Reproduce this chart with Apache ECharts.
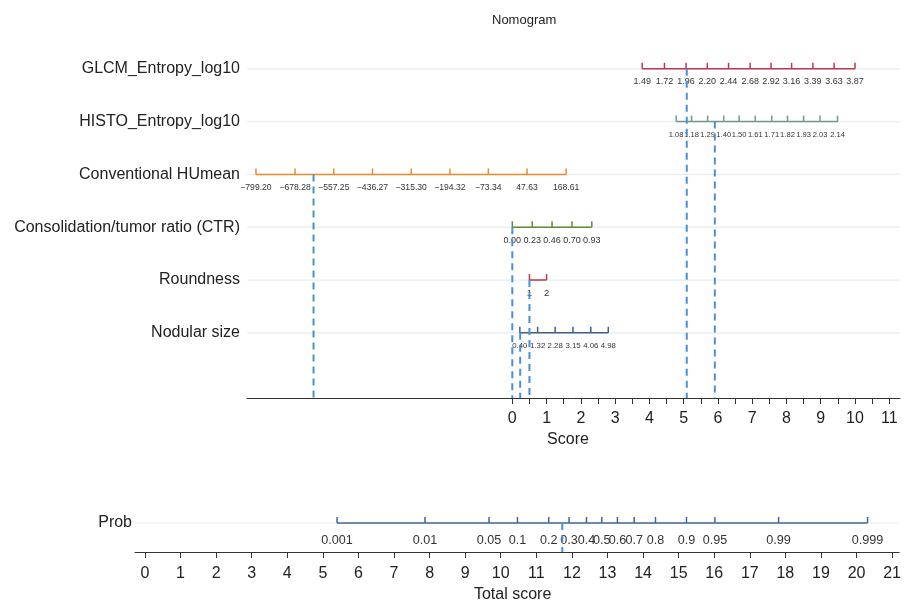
<!DOCTYPE html>
<html>
<head>
<meta charset="utf-8">
<script src="https://cdn.jsdelivr.net/npm/echarts@6/dist/echarts.min.js"></script>
<style>
html,body{margin:0;padding:0;background:#fff;}
#main{width:904px;height:604px;}
</style>
</head>
<body>
<div id="main"></div>
<script>
// ---------- data ----------
const rowNames = ['GLCM_Entropy_log10','HISTO_Entropy_log10','Conventional HUmean','Consolidation/tumor ratio (CTR)','Roundness','Nodular size'];

const glcmLabels = ['1.49','1.72','1.96','2.20','2.44','2.68','2.92','3.16','3.39','3.63','3.87'];
const glcmPoints = [3.79,4.44,5.07,5.69,6.31,6.94,7.55,8.15,8.77,9.39,10.00];

const histoLabels = ['1.08','1.18','1.29','1.40','1.50','1.61','1.71','1.82','1.93','2.03','2.14'];
const histoPoints = [4.78,5.23,5.70,6.17,6.62,7.09,7.57,8.03,8.50,8.98,9.49];

const huLabels = ['\u2212799.20','\u2212678.28','\u2212557.25','\u2212436.27','\u2212315.30','\u2212194.32','\u221273.34','47.63','168.61'];
const huPoints = [-7.48,-6.34,-5.21,-4.08,-2.95,-1.82,-0.70,0.43,1.57];

const ctrLabels = ['0.00','0.23','0.46','0.70','0.93'];
const ctrPoints = [0.00,0.58,1.16,1.74,2.32];

const roundLabels = ['1','2'];
const roundPoints = [0.50,1.00];

const sizeLabels = ['0.40','1.32','2.28','3.15','4.06','4.98'];
const sizePoints = [0.22,0.74,1.25,1.77,2.29,2.80];

const probLabels = ['0.001','0.01','0.05','0.1','0.2','0.3','0.4','0.5','0.6','0.7','0.8','0.9','0.95','0.99','0.999'];
const probPoints = [5.40,7.87,9.67,10.47,11.35,11.92,12.41,12.84,13.28,13.75,14.35,15.22,16.02,17.81,20.31];

// patient markers (score for each row) and total score
const patientScores = [5.09,5.91,-5.80,0.00,0.50,0.23];
const patientTotal = 11.73;

// axis ticks / labels
const scoreTicks = [0,0.5,1,1.5,2,2.5,3,3.5,4,4.5,5,5.5,6,6.5,7,7.5,8,8.5,9,9.5,10,10.5,11];
const scoreLabels = [0,1,2,3,4,5,6,7,8,9,10,11];
const totalTicks = [0,1,2,3,4,5,6,7,8,9,10,11,12,13,14,15,16,17,18,19,20,21];
const totalLabels = [0,1,2,3,4,5,6,7,8,9,10,11,12,13,14,15,16,17,18,19,20,21];

// ---------- layout / style ----------
const FONT = '"Liberation Sans", Arial, Helvetica, sans-serif';
const X_MIN = -7.742, X_MAX = 11.313;
const Y_AXIS_POS = 6.234;
const T_MIN = -0.28, T_MAX = 21.2;
const gridColor = '#e5edf1';
const dashColor = '#4a90d6';

const variables = [
  {points: glcmPoints, labels: glcmLabels, color: '#c2344c', fs: 9},
  {points: histoPoints, labels: histoLabels, color: '#72978a', fs: 7.6},
  {points: huPoints, labels: huLabels, color: '#e98b2c', fs: 8.6},
  {points: ctrPoints, labels: ctrLabels, color: '#5f8b37', fs: 9},
  {points: roundPoints, labels: roundLabels, color: '#b83a4c', fs: 9.5},
  {points: sizePoints, labels: sizeLabels, color: '#3e5f85', fs: 7.8}
];

function tickSeries(points, labels, row, color, fs, gridIdx, labelOffset) {
  return {
    type: 'custom', xAxisIndex: gridIdx, yAxisIndex: gridIdx, silent: true, z: 5,
    data: points.map(p => [p, row]),
    renderItem: function (params, api) {
      const p = api.coord([api.value(0), api.value(1)]);
      return {
        type: 'group',
        children: [
          {type: 'line', shape: {x1: p[0], y1: p[1], x2: p[0], y2: p[1] - 6},
           style: {stroke: color, lineWidth: 1.5}},
          {type: 'text', x: p[0], y: p[1] + labelOffset,
           style: {text: labels[params.dataIndex], fill: '#333', fontSize: fs, fontFamily: FONT,
                   align: 'center', verticalAlign: 'middle'}}
        ]
      };
    }
  };
}

const series = [];
// light row guide lines
rowNames.forEach((n, i) => {
  series.push({type: 'line', xAxisIndex: 0, yAxisIndex: 0, silent: true, symbol: 'none', z: 1,
    data: [[X_MIN, i], [X_MAX, i]], lineStyle: {color: gridColor, width: 1.2}});
});
series.push({type: 'line', xAxisIndex: 1, yAxisIndex: 1, silent: true, symbol: 'none', z: 1,
  data: [[T_MIN, 0.5], [T_MAX, 0.5]], lineStyle: {color: gridColor, width: 1.2}});

// variable scales
variables.forEach((v, i) => {
  series.push({type: 'line', xAxisIndex: 0, yAxisIndex: 0, silent: true, symbol: 'none', z: 4,
    data: [[v.points[0], i], [v.points[v.points.length - 1], i]],
    lineStyle: {color: v.color, width: 1.5}});
  series.push(tickSeries(v.points, v.labels, i, v.color, v.fs, 0, 13));
});

// patient dashed lines
patientScores.forEach((s, i) => {
  series.push({type: 'line', xAxisIndex: 0, yAxisIndex: 0, silent: true, symbol: 'none', z: 6,
    data: [[s, i], [s, Y_AXIS_POS]],
    lineStyle: {color: dashColor, width: 2, type: [7, 5]}});
});

// probability scale
series.push({type: 'line', xAxisIndex: 1, yAxisIndex: 1, silent: true, symbol: 'none', z: 4,
  data: [[probPoints[0], 0.5], [probPoints[probPoints.length - 1], 0.5]],
  lineStyle: {color: '#3f6890', width: 1.5}});
series.push(tickSeries(probPoints, probLabels, 0.5, '#3f6890', 12.6, 1, 18));
series.push({type: 'line', xAxisIndex: 1, yAxisIndex: 1, silent: true, symbol: 'none', z: 6,
  data: [[patientTotal, 0.5], [patientTotal, 0]],
  lineStyle: {color: dashColor, width: 2, type: [7, 5]}});

const option = {
  animation: false,
  backgroundColor: '#ffffff',
  textStyle: {fontFamily: FONT},
  title: {text: 'Nomogram', left: 487, top: 9,
    textStyle: {fontSize: 13, fontWeight: 'normal', color: '#222', fontFamily: FONT}},
  grid: [
    {left: 247, right: 4, top: 16, height: 382},
    {left: 135, right: 4, top: 494, height: 64}
  ],
  xAxis: [
    {type: 'value', gridIndex: 0, min: X_MIN, max: X_MAX,
     axisLine: {show: true, onZero: false, lineStyle: {color: '#333', width: 1}},
     axisTick: {show: true, customValues: scoreTicks, length: 6, lineStyle: {color: '#333'}},
     axisLabel: {customValues: scoreLabels, fontSize: 16, color: '#222', margin: 13, fontFamily: FONT},
     splitLine: {show: false},
     name: 'Score', nameLocation: 'middle', nameGap: 34,
     nameTextStyle: {fontSize: 16, color: '#222', fontFamily: FONT, padding: [0, 11, 0, 0]}},
    {type: 'value', gridIndex: 1, min: T_MIN, max: T_MAX,
     axisLine: {show: true, onZero: false, lineStyle: {color: '#333', width: 1}},
     axisTick: {show: true, customValues: totalTicks, length: 6, lineStyle: {color: '#333'}},
     axisLabel: {customValues: totalLabels, fontSize: 16, color: '#222', margin: 14, fontFamily: FONT},
     splitLine: {show: false},
     name: 'Total score', nameLocation: 'middle', nameGap: 35,
     nameTextStyle: {fontSize: 16, color: '#222', fontFamily: FONT, padding: [0, 9, 0, 0]}}
  ],
  yAxis: [
    {type: 'value', gridIndex: 0, inverse: true, min: -1, max: Y_AXIS_POS,
     axisLine: {show: false}, axisTick: {show: false, customValues: [0,1,2,3,4,5]},
     splitLine: {show: false},
     axisLabel: {customValues: [0,1,2,3,4,5], margin: 7, fontSize: 16, color: '#222', fontFamily: FONT,
       formatter: v => rowNames[Math.round(v)] || ''}},
    {type: 'value', gridIndex: 1, min: 0, max: 1,
     axisLine: {show: false}, axisTick: {show: false, customValues: [0.5]},
     splitLine: {show: false},
     axisLabel: {customValues: [0.5], margin: 3, fontSize: 16, color: '#222', fontFamily: FONT,
       formatter: () => 'Prob'}}
  ],
  series: series
};

const chart = echarts.init(document.getElementById('main'));
chart.setOption(option);
</script>
</body>
</html>
